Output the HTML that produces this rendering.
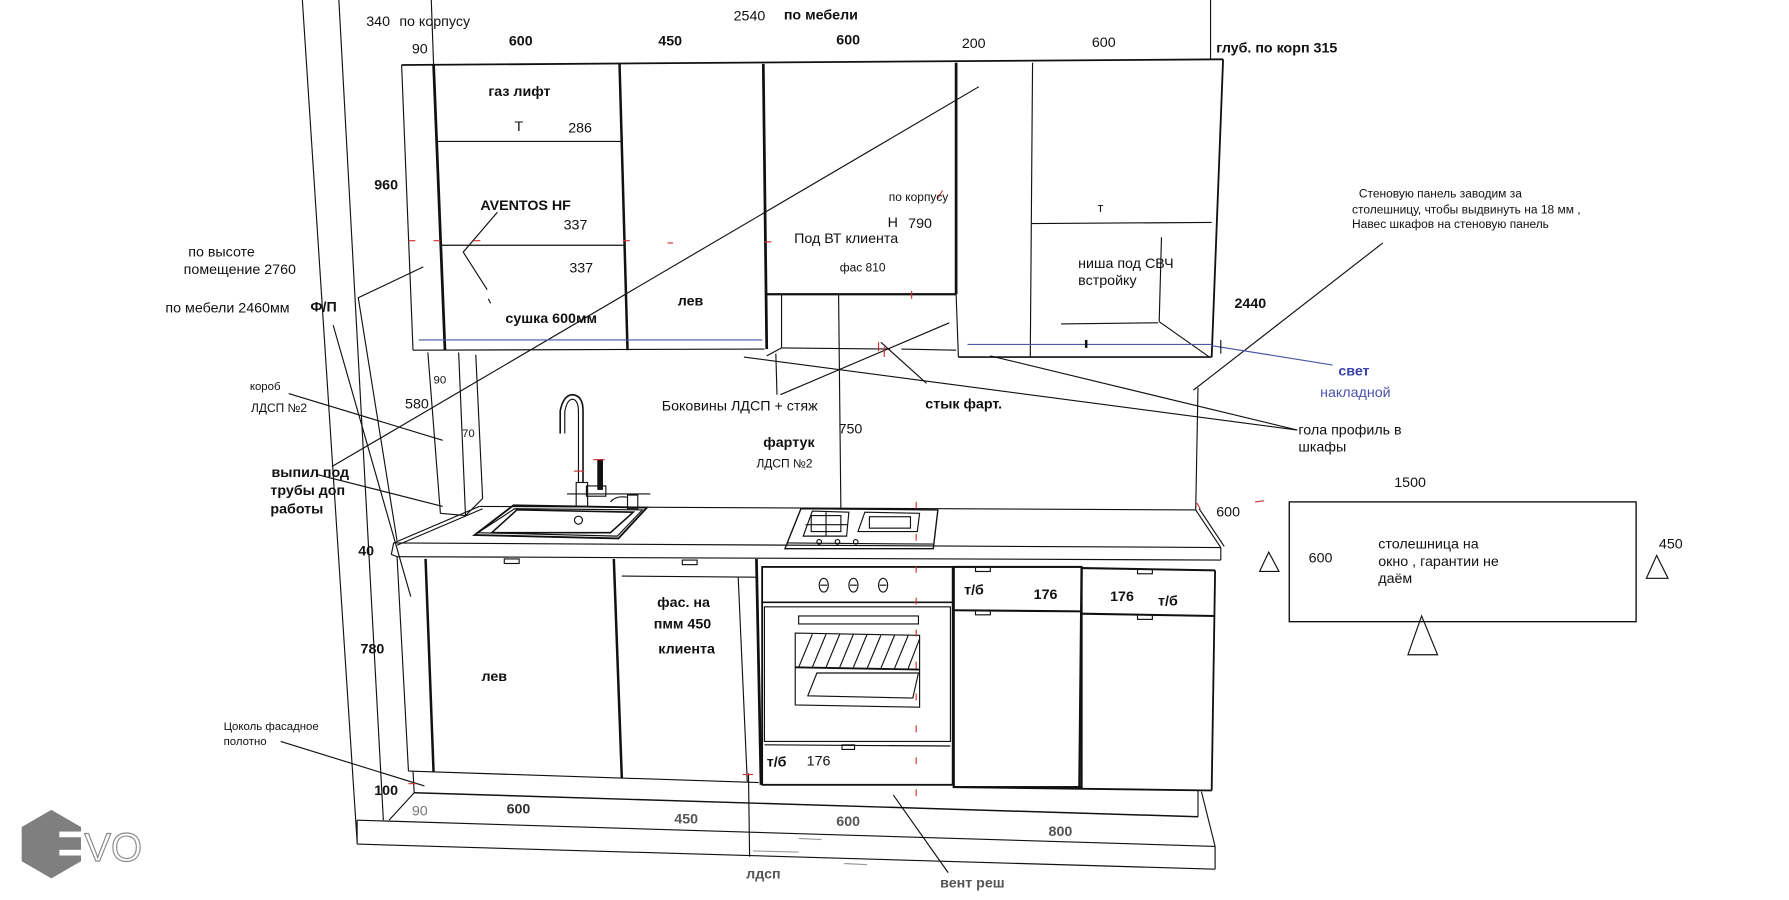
<!DOCTYPE html>
<html><head><meta charset="utf-8">
<style>
html,body{margin:0;padding:0;background:#fff;}
svg{display:block;}
text{font-family:"Liberation Sans","Noto Sans CJK SC",sans-serif;fill:#111;}
.b{font-weight:bold;}
</style></head>
<body>
<svg width="1789" height="900" viewBox="0 0 1568 789" preserveAspectRatio="none" xmlns="http://www.w3.org/2000/svg">
<rect width="1568" height="789" fill="#fff"/>
<g fill="none" stroke="#111" stroke-width="1">
<!-- left wall lines -->
<line x1="265" y1="0" x2="313" y2="738"/>
<line x1="297" y1="0" x2="336" y2="719"/>
<line x1="378" y1="0" x2="380" y2="56"/>
<line x1="1061" y1="0" x2="1061" y2="52"/>
<!-- top line -->
<line x1="352" y1="57" x2="1072" y2="52" stroke-width="1.6"/>
<!-- upper cabinet 1 -->
<line x1="352" y1="57" x2="362" y2="307"/>
<line x1="380" y1="56" x2="390" y2="307" stroke-width="2.4"/>
<line x1="543" y1="56" x2="550" y2="307" stroke-width="2.2"/>
<line x1="362" y1="307" x2="670" y2="306"/>
<line x1="383" y1="124" x2="545" y2="124"/>
<line x1="387" y1="215" x2="548" y2="215"/>
<polyline points="436,186 406,221 427,254"/>
<line x1="428" y1="262" x2="430" y2="266"/>
<!-- upper cabinet 2 -->
<line x1="669" y1="56" x2="672" y2="306" stroke-width="2.4"/>
<!-- VT cabinet -->
<line x1="838" y1="55" x2="838" y2="258" stroke-width="2.4"/>
<line x1="672" y1="258" x2="838" y2="258" stroke-width="2"/>
<line x1="685" y1="258" x2="685" y2="305"/>
<line x1="735" y1="258" x2="737" y2="447"/>
<line x1="685" y1="305" x2="780" y2="306"/>
<line x1="790" y1="306" x2="838" y2="307"/>
<line x1="672" y1="312" x2="685" y2="305"/>
<!-- cabinet 4 & 5 -->
<line x1="838" y1="258" x2="840" y2="313"/>
<line x1="905" y1="55" x2="903" y2="313"/>
<line x1="1072" y1="52" x2="1062" y2="313" stroke-width="1.6"/>
<line x1="840" y1="313" x2="1062" y2="313" stroke-width="1.4"/>
<line x1="904" y1="196" x2="1062" y2="195"/>
<line x1="1018" y1="208" x2="1016" y2="282"/>
<line x1="930" y1="284" x2="1015" y2="283"/>
<line x1="1016" y1="282" x2="1060" y2="313"/>
<!-- long diagonal -->
<line x1="291" y1="409" x2="858" y2="76"/>
<!-- leaders left -->
<polyline points="371,234 314,261 348,474"/>
<line x1="292" y1="285" x2="360" y2="523"/>
<line x1="253" y1="345" x2="388" y2="386"/>
<line x1="278" y1="416" x2="388" y2="444"/>
<line x1="246" y1="650" x2="372" y2="689"/>
<!-- korob -->
<line x1="375" y1="309" x2="386" y2="450"/>
<line x1="402" y1="309" x2="408" y2="452"/>
<line x1="417" y1="311" x2="423" y2="437"/>
<line x1="386" y1="450" x2="408" y2="452"/>
<line x1="408" y1="452" x2="423" y2="437"/>
<!-- middle leaders -->
<line x1="680" y1="310" x2="681" y2="346"/>
<line x1="684" y1="346" x2="832" y2="283"/>
<line x1="812" y1="336" x2="772" y2="300"/>
<line x1="652" y1="313" x2="1137" y2="377"/>
<line x1="868" y1="312" x2="1137" y2="377"/>
<line x1="1212" y1="213" x2="1046" y2="342"/>
<!-- right wall -->
<line x1="1050" y1="340" x2="1048" y2="447"/>
<!-- countertop -->
<line x1="420" y1="444" x2="1048" y2="447"/>
<line x1="345" y1="476" x2="420" y2="444"/>
<line x1="348" y1="478" x2="423" y2="446"/>
<line x1="345" y1="476" x2="1070" y2="480"/>
<line x1="348" y1="488" x2="1070" y2="491"/>
<polyline points="345,476 343,486 348,488"/>
<line x1="1048" y1="447" x2="1070" y2="480"/>
<line x1="1051" y1="446" x2="1073" y2="479"/>
<line x1="1070" y1="480" x2="1070" y2="491"/>
<!-- sink -->
<polygon points="416,469 450,443 567,445 542,472" stroke-width="1.6"/>
<polygon points="419,467 451,446 563,447 541,470"/>
<polygon points="431,467 453,447 555,449 535,467" stroke-width="1.4"/>
<circle cx="507" cy="456" r="3.5"/>
<line x1="497" y1="433" x2="570" y2="433"/>
<!-- faucet -->
<path d="M491,380 L491,360 Q494,346 502,346 Q511,347 511,360 L511,423" stroke-width="1.4"/>
<path d="M495,380 L495,361 Q497,350 502,350 Q507,351 507,361 L507,423" stroke-width="1"/>
<rect x="505" y="423" width="10" height="21"/>
<rect x="514" y="426" width="17" height="9"/>
<rect x="524" y="403" width="4" height="26" fill="#111"/>
<rect x="550" y="434" width="9" height="12"/>
<path d="M535,440 Q540,434 550,436"/>
<!-- hob -->
<polygon points="688,481 702,446 822,447 818,481" stroke-width="1.2"/>
<line x1="690" y1="476" x2="818" y2="477"/>
<polygon points="704,470 712,448 744,449 742,470"/>
<rect x="711" y="452" width="26" height="14"/>
<line x1="724" y1="449" x2="724" y2="470"/>
<line x1="706" y1="460" x2="743" y2="460"/>
<polygon points="752,466 758,449 806,450 804,466"/>
<rect x="762" y="453" width="36" height="10"/>
<circle cx="718" cy="475" r="2"/><circle cx="734" cy="475" r="2"/><circle cx="750" cy="475" r="2"/>
<!-- base cabinet left -->
<line x1="348" y1="488" x2="358" y2="676"/>
<line x1="373" y1="490" x2="380" y2="677" stroke-width="2.2"/>
<line x1="538" y1="490" x2="545" y2="682" stroke-width="2.2"/>
<line x1="358" y1="676" x2="665" y2="686"/>
<rect x="442" y="490" width="13" height="4"/>
<!-- DW -->
<line x1="545" y1="505" x2="663" y2="506"/>
<line x1="647" y1="506" x2="655" y2="686"/>
<line x1="663" y1="490" x2="667" y2="688" stroke-width="2.4"/>
<rect x="598" y="491" width="13" height="4"/>
<!-- oven -->
<rect x="668" y="497" width="167" height="191" stroke-width="1.6"/>
<line x1="668" y1="528" x2="835" y2="528" stroke-width="1.4"/>
<rect x="670" y="532" width="163" height="118"/>
<ellipse cx="722" cy="513" rx="4" ry="6"/><ellipse cx="748" cy="513" rx="4" ry="6"/><ellipse cx="774" cy="513" rx="4" ry="6"/>
<line x1="719" y1="513" x2="725" y2="513"/><line x1="745" y1="513" x2="751" y2="513"/><line x1="771" y1="513" x2="777" y2="513"/>
<rect x="700" y="540" width="105" height="7"/>
<polygon points="697,555 806,557 806,620 697,618"/>
<line x1="697" y1="585" x2="806" y2="587" stroke-width="1.6"/>
<path d="M700,585 L712,556 M712,585 L724,556 M724,585 L736,556 M736,585 L748,556 M748,585 L760,556 M760,586 L772,557 M772,586 L784,557 M784,586 L796,557 M796,586 L806,560"/>
<polygon points="716,590 805,590 800,612 708,610"/>
<line x1="670" y1="653" x2="833" y2="654"/>
<rect x="738" y="653" width="11" height="4"/>
<!-- drawer cab -->
<rect x="836" y="497" width="112" height="193" stroke-width="1.8"/>
<line x1="836" y1="535" x2="948" y2="536" stroke-width="1.8"/>
<rect x="855" y="497" width="13" height="4"/><rect x="855" y="535" width="13" height="4"/>
<!-- right cab -->
<line x1="948" y1="498" x2="1065" y2="500" stroke-width="1.8"/>
<line x1="948" y1="498" x2="946" y2="692" stroke-width="2"/>
<line x1="1065" y1="500" x2="1062" y2="693" stroke-width="1.6"/>
<line x1="948" y1="538" x2="1065" y2="540" stroke-width="1.8"/>
<line x1="835" y1="690" x2="1062" y2="693" stroke-width="1.6"/>
<rect x="997" y="499" width="13" height="4"/><rect x="997" y="539" width="13" height="4"/>
<!-- plinth / floor -->
<line x1="362" y1="676" x2="363" y2="695"/>
<line x1="363" y1="695" x2="1050" y2="716" stroke-width="1.3"/>
<line x1="1050" y1="693" x2="1050" y2="716"/>
<line x1="363" y1="695" x2="341" y2="719"/>
<line x1="1053" y1="694" x2="1065" y2="742"/>
<line x1="313" y1="719" x2="1065" y2="742"/>
<line x1="313" y1="740" x2="1065" y2="762"/>
<line x1="313" y1="719" x2="313" y2="740"/>
<line x1="1065" y1="742" x2="1065" y2="762"/>
<line x1="656" y1="678" x2="657" y2="751"/>
<line x1="783" y1="697" x2="831" y2="765"/>
<!-- right window countertop -->
<rect x="1130" y="440" width="304" height="105" stroke-width="1.2"/>
<polygon points="1112,484 1104,501 1121,501"/>
<polygon points="1452,487 1443,507 1462,507"/>
<polygon points="1246,540 1234,574 1260,574"/>
</g>
<!-- faint gray dashes -->
<g stroke="#999" stroke-width="1">
<line x1="700" y1="735" x2="720" y2="736"/><line x1="740" y1="757" x2="760" y2="758"/>
<line x1="660" y1="746" x2="700" y2="747"/>
</g>
<!-- blue lines -->
<g stroke="#4b55a8" stroke-width="1" fill="none">
<line x1="367" y1="298" x2="668" y2="298"/>
<line x1="848" y1="302" x2="1062" y2="302"/>
<line x1="1062" y1="303" x2="1168" y2="320"/>
</g>
<g stroke="#111" stroke-width="2.2">
<line x1="952" y1="298" x2="952" y2="305"/>
<line x1="1070" y1="298" x2="1070" y2="310" stroke-width="1"/>
</g>
<!-- red ticks -->
<g stroke="#d03030" stroke-width="1">
<line x1="358" y1="211" x2="364" y2="211"/><line x1="380" y1="211" x2="386" y2="211"/>
<line x1="415" y1="211" x2="421" y2="211"/><line x1="546" y1="211" x2="552" y2="211"/>
<line x1="585" y1="213" x2="590" y2="213"/><line x1="670" y1="212" x2="676" y2="212"/>
<line x1="799" y1="255" x2="799" y2="262"/><line x1="826" y1="167" x2="822" y2="174"/>
<line x1="803" y1="440" x2="803" y2="700" stroke-dasharray="6,22"/>
<line x1="1100" y1="440" x2="1108" y2="439"/><line x1="1049" y1="441" x2="1052" y2="446"/>
<line x1="358" y1="687" x2="365" y2="687"/><line x1="651" y1="679" x2="660" y2="679"/>
<line x1="770" y1="300" x2="770" y2="308"/><line x1="775" y1="304" x2="775" y2="313"/>
<line x1="520" y1="403" x2="530" y2="403"/><line x1="503" y1="413" x2="512" y2="413"/>
</g>
<!-- text -->
<g font-size="12.5">
<text x="321" y="23">340</text><text x="350" y="23">по корпусу</text>
<text x="361" y="47">90</text>
<text class="b" x="446" y="40">600</text>
<text class="b" x="577" y="40">450</text>
<text x="643" y="18">2540</text><text class="b" x="687" y="17">по мебели</text>
<text class="b" x="733" y="39">600</text>
<text x="843" y="42">200</text>
<text x="957" y="41">600</text>
<text class="b" x="1066" y="46">глуб. по корп 315</text>
<text class="b" x="428" y="84">газ лифт</text>
<text x="451" y="115">Т</text><text x="498" y="116">286</text>
<text class="b" x="328" y="166">960</text>
<text class="b" x="421" y="184">AVENTOS HF</text>
<text x="494" y="201">337</text>
<text x="499" y="239">337</text>
<text class="b" x="443" y="283">сушка 600мм</text>
<text class="b" x="594" y="268">лев</text>
<text x="779" y="176" font-size="10.5">по корпусу</text>
<text x="778" y="199">Н</text><text x="796" y="200">790</text>
<text x="696" y="213">Под ВТ клиента</text>
<text x="736" y="238" font-size="10.5">фас 810</text>
<text x="962" y="186" font-size="11">т</text>
<text x="945" y="235">ниша под СВЧ</text><text x="945" y="250">встройку</text>
<text x="1191" y="173" font-size="10.5">Стеновую панель заводим  за</text>
<text x="1185" y="187" font-size="10.5">столешницу, чтобы выдвинуть на 18 мм ,</text>
<text x="1185" y="200" font-size="10.5">Навес шкафов на стеновую панель</text>
<text class="b" x="1082" y="270">2440</text>
<text class="b" x="1173" y="329" style="fill:#3a44a8">свет</text>
<text x="1157" y="348" style="fill:#4a50b0">накладной</text>
<text x="1138" y="381">гола профиль в</text><text x="1138" y="396">шкафы</text>
<text x="165" y="225">по высоте</text><text x="161" y="240">помещение 2760</text>
<text x="145" y="274">по мебели 2460мм</text>
<text class="b" x="272" y="273">Ф/П</text>
<text x="219" y="342" font-size="10">короб</text>
<text x="220" y="361" font-size="10.5">ЛДСП №2</text>
<text x="380" y="336" font-size="10">90</text>
<text x="355" y="358">580</text>
<text x="405" y="383" font-size="10">70</text>
<text class="b" x="238" y="418">выпил под</text>
<text class="b" x="237" y="434">трубы доп</text>
<text class="b" x="237" y="450">работы</text>
<text x="580" y="360">Боковины ЛДСП + стяж</text>
<text class="b" x="811" y="358">стык фарт.</text>
<text x="735" y="380">750</text>
<text class="b" x="669" y="392">фартук</text>
<text x="663" y="410" font-size="10.5">ЛДСП №2</text>
<text x="1066" y="453">600</text>
<text x="1222" y="427">1500</text>
<text x="1454" y="481">450</text>
<text x="1147" y="493">600</text>
<text x="1208" y="481">столешница на</text>
<text x="1208" y="496">окно , гарантии не</text>
<text x="1208" y="511">даём</text>
<text class="b" x="314" y="487">40</text>
<text class="b" x="576" y="532">фас. на</text>
<text class="b" x="573" y="551">пмм 450</text>
<text class="b" x="577" y="573">клиента</text>
<text class="b" x="422" y="597">лев</text>
<text class="b" x="845" y="521">т/б</text><text class="b" x="906" y="525">176</text>
<text class="b" x="973" y="527">176</text><text class="b" x="1015" y="531">т/б</text>
<text class="b" x="316" y="573">780</text>
<text x="196" y="640" font-size="10">Цоколь фасадное</text>
<text x="196" y="653" font-size="10">полотно</text>
<text class="b" x="672" y="672">т/б</text><text x="707" y="671">176</text>
<text class="b" x="328" y="697">100</text>
<text x="361" y="715" style="fill:#777">90</text>
<text class="b" x="444" y="713" style="fill:#333">600</text>
<text class="b" x="591" y="722" style="fill:#555">450</text>
<text class="b" x="733" y="724" style="fill:#555">600</text>
<text class="b" x="919" y="733" style="fill:#555">800</text>
<text class="b" x="654" y="770" style="fill:#555">лдсп</text>
<text class="b" x="824" y="778" style="fill:#555">вент реш</text>
</g>
<!-- EVO logo -->
<polygon points="45,710 71,725 71,755 45,770 19,755 19,725" fill="#7f7f7f"/>
<rect x="52" y="729" width="22" height="5" fill="#fff"/>
<rect x="52" y="745" width="22" height="5" fill="#fff"/>
<text x="74" y="755" font-size="35" style="fill:#fff;stroke:#8a8a8a;stroke-width:1">VO</text>
</svg>
</body></html>
